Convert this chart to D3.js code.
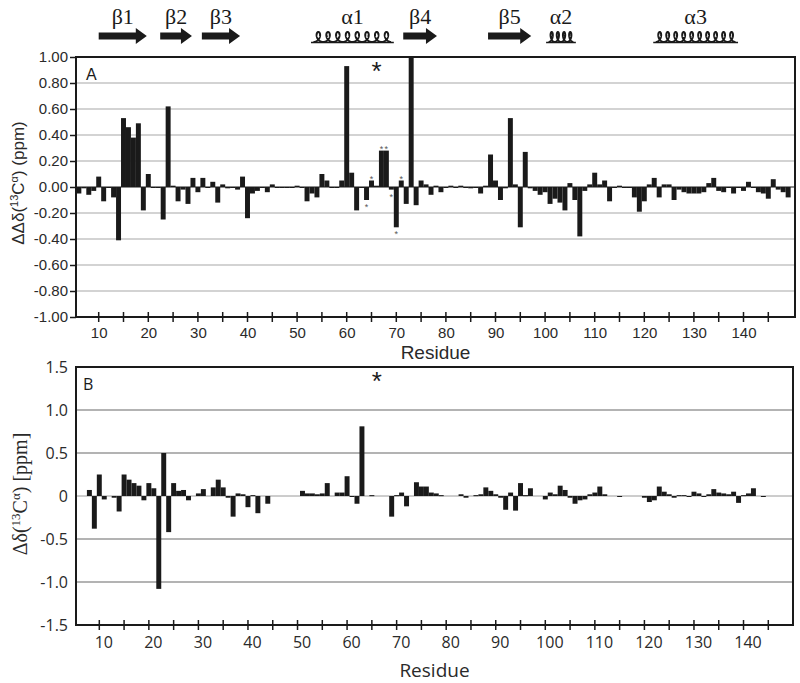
<!DOCTYPE html>
<html>
<head>
<meta charset="utf-8">
<script src="https://cdn.jsdelivr.net/npm/d3@7"></script>
<style>
body { margin: 0; background: #fff; }
</style>
</head>
<body>
<svg id="chart" width="800" height="683"></svg>
<script>
// residues 6..149
var residues = d3.range(6, 150)

// panel A: ddCa (ppm), one value per residue
var deltaA = [
  -0.05, -0.01, -0.06, -0.03,
  0.08, -0.11, 0, -0.08, -0.41, 0.53, 0.46, 0.38, 0.49, -0.18,
  0.10, 0, 0, -0.25, 0.62, 0.01, -0.11, -0.02, -0.13, 0.07,
  -0.04, 0.07, 0, 0.04, -0.12, 0.02, -0.01, 0, -0.02, 0.08,
  -0.24, -0.05, -0.03, 0, -0.04, 0.02, 0, 0, 0, 0,
  0.01, 0, -0.11, -0.05, -0.08, 0.10, 0.05, 0, 0, 0.05,
  0.93, 0.11, -0.18, 0, -0.10, 0.05, 0.01, 0.28, 0.28, -0.02,
  -0.31, 0.05, -0.13, 1.00, -0.14, 0.05, 0.02, -0.06, 0.01, -0.04,
  0, 0.01, 0, 0.01, 0, -0.01, 0, -0.05, 0.01, 0.25,
  0.05, -0.10, -0.01, 0.53, 0.02, -0.31, 0.27, -0.01, -0.03, -0.06,
  -0.04, -0.13, -0.09, -0.12, -0.18, 0.03, -0.10, -0.38, -0.03, 0.02,
  0.11, 0.02, 0.05, -0.11, 0, 0.01, 0, 0, -0.08, -0.19,
  -0.11, 0.02, 0.07, -0.08, 0.02, 0.02, -0.10, -0.02, -0.04, -0.05,
  -0.05, -0.05, -0.04, 0.03, 0.07, -0.03, -0.04, 0, -0.05, 0,
  -0.03, 0.04, 0, -0.04, -0.05, -0.09, 0.06, -0.02, -0.04, -0.08
]

// panel B: dCa (ppm), null = no data
var deltaB = [
  null, null, 0.07, -0.38,
  0.25, -0.04, null, -0.02, -0.18, 0.25, 0.19, 0.15, 0.12, -0.05,
  0.15, 0.09, -1.08, 0.50, -0.42, 0.15, 0.06, 0.07, -0.05, null,
  0.03, 0.08, null, 0.10, 0.19, 0.10, -0.02, -0.24, 0.03, 0.02,
  -0.13, 0.01, -0.20, null, -0.09, null, null, null, null, null,
  null, 0.06, 0.03, 0.03, 0.02, 0.03, 0.15, null, 0.04, 0.04,
  0.23, -0.01, -0.09, 0.81, null, 0.01, null, null, null, -0.24,
  0.01, 0.04, -0.12, null, 0.16, 0.11, 0.11, 0.04, 0.03, 0.01,
  null, null, null, 0.02, -0.02, null, 0.01, 0.02, 0.10, 0.06,
  0.02, -0.02, -0.16, 0.04, -0.17, 0.15, 0.01, 0.09, null, null,
  -0.04, 0.04, 0.02, 0.12, 0.07, -0.02, -0.09, -0.05, -0.04, 0.02,
  0.04, 0.11, 0.02, null, null, 0, null, null, null, null,
  -0.02, -0.07, -0.05, 0.11, 0.05, 0.02, -0.02, 0.01, 0.01, -0.01,
  0.05, 0.03, -0.01, 0.02, 0.08, 0.04, 0.03, 0.02, 0.05, -0.08,
  0.01, 0.03, 0.09, null, 0, null, null, null, null, null
]

// small asterisks on single bars of panel A
var starsAbove = [65, 67, 68, 71]
var starsBelow = [64, 69, 70]
var bigStarResidue = 66

var ticksA = [1.00, 0.80, 0.60, 0.40, 0.20, 0.00, -0.20, -0.40, -0.60, -0.80, -1.00]
var tickLabelsA = ["1.00", "0.80", "0.60", "0.40", "0.20", "0.00", "-0.20", "-0.40", "-0.60", "-0.80", "-1.00"]
var ticksB = [1.5, 1.0, 0.5, 0, -0.5, -1.0, -1.5]
var tickLabelsB = ["1.5", "1.0", "0.5", "0", "-0.5", "-1.0", "-1.5"]
var xLabelTicks = [10, 20, 30, 40, 50, 60, 70, 80, 90, 100, 110, 120, 130, 140]
var xMinorTicks = [10, 15, 20, 25, 30, 35, 40, 45, 50, 55, 60, 65, 70, 75, 80, 85, 90, 95, 100, 105, 110, 115, 120, 125, 130, 135, 140, 145]

// secondary structure
var ssNames = ["β1", "β2", "β3", "α1", "β4", "β5", "α2", "α3"]
var ssType = ["E", "E", "E", "H", "E", "E", "H", "H"]
var ssStart = [10, 22.4, 30.8, 52.8, 71.4, 88.5, 100.2, 121.8]
var ssEnd = [19.7, 28.8, 38.5, 69.5, 78.2, 97.2, 106.2, 138.9]
var ssLoops = [0, 0, 0, 8, 0, 0, 4, 10]

var svg = d3.select('#chart')
var ink = '#1a1a1a'

var xA = d3.scaleLinear().domain([10, 145]).range([98.7, 768.3])
var yA = d3.scaleLinear().domain([-1, 1]).range([317, 57])
var xB = d3.scaleLinear().domain([10, 145]).range([99.3, 768.3])
var yB = d3.scaleLinear().domain([-1.5, 1.5]).range([625, 367])

function drawPanel(g, x, y, vals, opt) {
  // gridlines
  g.selectAll('line.grid')
    .data(opt.grid)
    .enter().append('line')
    .attr('x1', opt.left).attr('x2', opt.right)
    .attr('y1', d => y(d)).attr('y2', d => y(d))
    .attr('stroke', opt.gridColor).attr('stroke-width', 1.5)

  // zero line
  g.append('line')
    .attr('x1', opt.left).attr('x2', opt.right)
    .attr('y1', y(0)).attr('y2', y(0))
    .attr('stroke', opt.zeroColor).attr('stroke-width', 1)

  var w = x(1) - x(0)
  var data = residues.map((r, i) => ({r: r, v: vals[i]})).filter(d => d.v !== null)
  g.selectAll('rect.bar')
    .data(data)
    .enter().append('rect')
    .attr('x', d => x(d.r) - w / 2)
    .attr('y', d => y(Math.max(d.v, 0)))
    .attr('width', w)
    .attr('height', d => Math.max(Math.abs(y(d.v) - y(0)), 1))
    .attr('fill', ink)

  // frame
  g.append('rect')
    .attr('x', opt.left).attr('y', y.range()[1])
    .attr('width', opt.right - opt.left)
    .attr('height', y.range()[0] - y.range()[1])
    .attr('fill', 'none').attr('stroke', ink).attr('stroke-width', 2)

  // x ticks crossing the bottom edge
  var yb = y.range()[0]
  g.selectAll('line.xt')
    .data(xMinorTicks)
    .enter().append('line')
    .attr('x1', d => x(d)).attr('x2', d => x(d))
    .attr('y1', yb - 5).attr('y2', yb + 5)
    .attr('stroke', ink).attr('stroke-width', 1.5)

  g.append('g')
    .attr('transform', 'translate(0,' + yb + ')')
    .call(d3.axisBottom(x).tickValues(xLabelTicks).tickSize(0).tickPadding(opt.xPad))
    .call(a => a.select('.domain').remove())
    .selectAll('text')
    .attr('dx', opt.xdx)
    .style('font-family', opt.font).style('font-size', opt.tickSize + 'px').attr('fill', '#2a2a2a')

  g.append('g')
    .attr('transform', 'translate(' + opt.left + ',0)')
    .call(d3.axisLeft(y).tickValues(opt.ticks).tickFormat((d, i) => opt.labels[i])
      .tickSize(opt.yTick).tickPadding(opt.yPad))
    .call(a => a.select('.domain').remove())
    .call(a => a.selectAll('line').attr('stroke', ink).attr('stroke-width', 1.5))
    .selectAll('text')
    .style('font-family', opt.font).style('font-size', opt.tickSize + 'px').attr('fill', '#2a2a2a')

  g.append('text')
    .attr('x', (opt.left + opt.right) / 2).attr('y', opt.resY)
    .attr('text-anchor', 'middle')
    .style('font-family', opt.font).style('font-size', '19px').attr('fill', '#2a2a2a')
    .text('Residue')

  g.append('text')
    .attr('x', opt.letterX).attr('y', y.range()[1] + 23)
    .style('font-family', opt.font).style('font-size', '16px').attr('fill', ink)
    .text(opt.letter)

  g.append('text')
    .attr('x', x(bigStarResidue)).attr('y', y.range()[1] + 23)
    .attr('text-anchor', 'middle')
    .style('font-family', 'Liberation Sans').style('font-size', '26px').attr('fill', ink)
    .text('*')
}

var gA = svg.append('g')
drawPanel(gA, xA, yA, deltaA, {
  left: 76, right: 795, grid: [0.8, 0.6, 0.4, 0.2, -0.2, -0.4, -0.6, -0.8],
  gridColor: '#c4c4c4', zeroColor: ink, ticks: ticksA, labels: tickLabelsA,
  font: 'Liberation Sans', tickSize: 15, xPad: 10, xdx: 0, yTick: 6, yPad: 2,
  resY: 359, letter: 'A', letterX: 86
})

var gB = svg.append('g')
drawPanel(gB, xB, yB, deltaB, {
  left: 76, right: 793, grid: [1.0, 0.5, -0.5, -1.0],
  gridColor: '#9a9a9a', zeroColor: '#9a9a9a', ticks: ticksB, labels: tickLabelsB,
  font: 'Open Sans', tickSize: 16, xPad: 12, xdx: 4, yTick: 0, yPad: 8,
  resY: 677, letter: 'B', letterX: 83
})

// little asterisks in panel A
gA.selectAll('text.sa')
  .data(starsAbove)
  .enter().append('text')
  .attr('x', d => xA(d)).attr('y', d => yA(Math.max(deltaA[d - 6], 0)) + 1)
  .attr('text-anchor', 'middle')
  .style('font-family', 'Liberation Sans').style('font-size', '9px').attr('fill', '#555')
  .text('*')
gA.selectAll('text.sb')
  .data(starsBelow)
  .enter().append('text')
  .attr('x', d => xA(d)).attr('y', d => yA(Math.min(deltaA[d - 6], 0)) + 10)
  .attr('text-anchor', 'middle')
  .style('font-family', 'Liberation Sans').style('font-size', '9px').attr('fill', '#555')
  .text('*')

// axis titles
svg.append('text')
  .attr('transform', 'translate(24,183) rotate(-90)')
  .attr('text-anchor', 'middle')
  .style('font-family', 'Liberation Sans').style('font-size', '17px').attr('fill', '#2a2a2a')
  .html('ΔΔδ(<tspan baseline-shift="super" font-size="11px">13</tspan>C<tspan baseline-shift="super" font-size="11px">α</tspan>) (ppm)')

svg.append('text')
  .attr('transform', 'translate(27,494) rotate(-90)')
  .attr('text-anchor', 'middle')
  .style('font-family', 'Liberation Serif').style('font-size', '20px').attr('fill', '#2a2a2a')
  .html('Δδ(<tspan baseline-shift="super" font-size="13px">13</tspan>C<tspan baseline-shift="super" font-size="13px">α</tspan>) [ppm]')

// secondary structure strip
var ss = svg.append('g')
ssNames.forEach(function(name, i) {
  var x0 = xA(ssStart[i]), x1 = xA(ssEnd[i])
  ss.append('text')
    .attr('x', (x0 + x1) / 2).attr('y', 24)
    .attr('text-anchor', 'middle')
    .style('font-family', 'Liberation Serif').style('font-size', '22px').attr('fill', ink)
    .text(name)
  if (ssType[i] === 'E') {
    var yc = 36
    ss.append('path')
      .attr('d', 'M' + x0 + ',' + (yc - 3.5) + 'H' + (x1 - 11) + 'V' + (yc - 8) +
        'L' + x1 + ',' + yc + 'L' + (x1 - 11) + ',' + (yc + 8) + 'V' + (yc + 3.5) + 'H' + x0 + 'Z')
      .attr('fill', ink)
  } else {
    // looped coil drawn as a prolate trochoid
    var n = ssLoops[i]
    var k = (x1 - x0 - 5) / (2 * Math.PI * n)
    var b = 2.5 * k
    var pts = d3.range(0, 2 * Math.PI * n + 0.01, 0.06)
      .map(t => [x0 + 2.5 + k * t + b * Math.sin(t), 37 + 5 * Math.cos(t)])
    ss.append('path')
      .attr('d', d3.line()(pts))
      .attr('fill', 'none').attr('stroke', ink).attr('stroke-width', 2)
    ss.append('line')
      .attr('x1', x0).attr('x2', x1).attr('y1', 42.5).attr('y2', 42.5)
      .attr('stroke', ink).attr('stroke-width', 1.5)
  }
})
</script>
</body>
</html>
